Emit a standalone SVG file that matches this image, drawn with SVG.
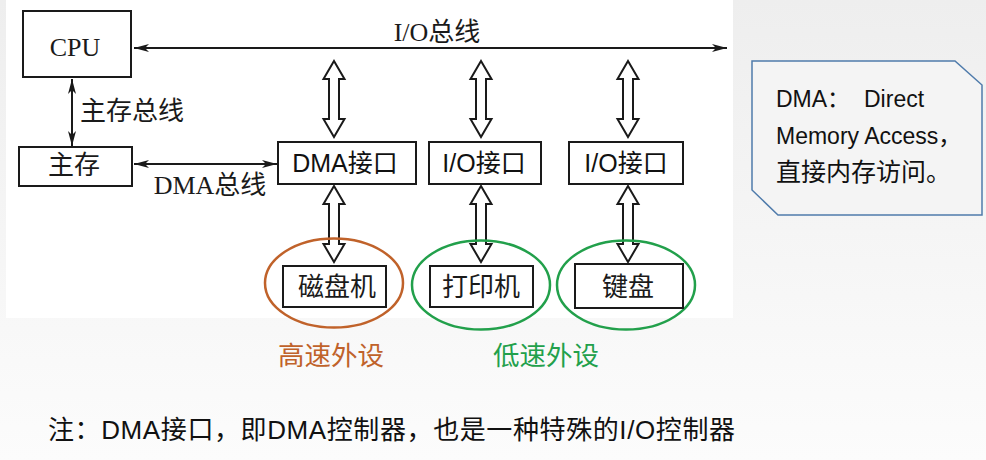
<svg xmlns="http://www.w3.org/2000/svg" width="986" height="460" viewBox="0 0 986 460">
<style>
.box{fill:#fff;stroke:#1a1a1a;stroke-width:2}
.serif{font-family:"Liberation Serif","Noto Sans CJK SC",serif;font-size:26px;fill:#1a1a1a}
.sans{font-family:"Liberation Sans","Noto Sans CJK SC",sans-serif;font-size:25px;fill:#111}
.line{stroke:#1a1a1a;stroke-width:2;fill:none}
.hollow{fill:#fff;stroke:#1a1a1a;stroke-width:2;stroke-linejoin:miter}
.ell{fill:none;stroke-width:2.5}
</style>
<defs>
<marker id="ah" markerUnits="userSpaceOnUse" markerWidth="16" markerHeight="10" refX="15" refY="5" orient="auto-start-reverse">
<path d="M0,1 L15,5 L0,9 L4,5 z" fill="#1a1a1a"/>
</marker>
<linearGradient id="bg" x1="0" y1="0" x2="0" y2="1">
<stop offset="0" stop-color="#eeeeee"/>
<stop offset="1" stop-color="#fcfcfc"/>
</linearGradient>
</defs>
<rect x="0" y="0" width="986" height="460" fill="url(#bg)"/>
<rect x="6" y="0" width="727" height="318" fill="#fff"/>

<g id="connectors">
<line class="line" x1="134" y1="48" x2="727" y2="48" marker-start="url(#ah)" marker-end="url(#ah)"/>
<line class="line" x1="72" y1="79" x2="72" y2="146" marker-start="url(#ah)" marker-end="url(#ah)"/>
<line class="line" x1="134" y1="164" x2="277" y2="164" marker-start="url(#ah)" marker-end="url(#ah)"/>
<polygon class="hollow" points="334,61 344.5,79 339,79 339,119 344.5,119 334,137 323.5,119 329,119 329,79 323.5,79"/>
<polygon class="hollow" points="481,61 491.5,79 486,79 486,119 491.5,119 481,137 470.5,119 476,119 476,79 470.5,79"/>
<polygon class="hollow" points="628,61 638.5,79 633,79 633,119 638.5,119 628,137 617.5,119 623,119 623,79 617.5,79"/>
<polygon class="hollow" points="334,186 344.5,204 339,204 339,244 344.5,244 334,262 323.5,244 329,244 329,204 323.5,204"/>
<polygon class="hollow" points="481,186 491.5,204 486,204 486,244 491.5,244 481,262 470.5,244 476,244 476,204 470.5,204"/>
<polygon class="hollow" points="628,186 638.5,204 633,204 633,244 638.5,244 628,262 617.5,244 623,244 623,204 617.5,204"/>
<text class="serif" x="437" y="41" text-anchor="middle">I/O总线</text>
<text class="serif" x="80" y="120">主存总线</text>
<text class="serif" x="210" y="194" text-anchor="middle">DMA总线</text>
</g>

<g id="cpu">
<rect class="box" x="23" y="11" width="108" height="66"/>
<text class="serif" x="75" y="56" text-anchor="middle" font-size="27">CPU</text>
</g>
<g id="memory">
<rect class="box" x="19" y="147" width="113" height="39"/>
<text class="serif" x="74" y="174" text-anchor="middle">主存</text>
</g>
<g id="dma-interface">
<rect class="box" x="278" y="142" width="138" height="42"/>
<text class="sans" x="345" y="172" text-anchor="middle">DMA接口</text>
</g>
<g id="io-interface-1">
<rect class="box" x="429" y="142" width="112" height="42"/>
<text class="sans" x="484" y="172" text-anchor="middle">I/O接口</text>
</g>
<g id="io-interface-2">
<rect class="box" x="569" y="142" width="114" height="42"/>
<text class="sans" x="626" y="172" text-anchor="middle">I/O接口</text>
</g>
<g id="disk">
<ellipse class="ell" cx="334" cy="283" rx="69" ry="44.5" stroke="#c0622a"/>
<rect class="box" x="283" y="266" width="103" height="41"/>
<text class="serif" x="337" y="296" text-anchor="middle">磁盘机</text>
</g>
<g id="printer">
<ellipse class="ell" cx="481" cy="285" rx="69" ry="44.5" stroke="#22a04b"/>
<rect class="box" x="430" y="266" width="103" height="41"/>
<text class="serif" x="481" y="296" text-anchor="middle">打印机</text>
</g>
<g id="keyboard">
<ellipse class="ell" cx="626" cy="285" rx="69" ry="44.5" stroke="#22a04b"/>
<rect class="box" x="575" y="264" width="108" height="44"/>
<text class="serif" x="628" y="296" text-anchor="middle">键盘</text>
</g>
<g id="labels">
<text x="331" y="365" text-anchor="middle" font-family="'Noto Sans CJK SC',sans-serif" font-size="26.5" fill="#c0622a">高速外设</text>
<text x="546" y="365" text-anchor="middle" font-family="'Noto Sans CJK SC',sans-serif" font-size="26.5" fill="#22a04b">低速外设</text>
</g>
<g id="callout">
<path d="M752,61 L955,61 L982,85 L982,215 L778,215 L752,190 Z" fill="#f4f4f4" stroke="#4f7bab" stroke-width="1.5"/>
<g font-family="'Liberation Sans','Noto Sans CJK SC',sans-serif" font-size="23" fill="#111">
<text x="776" y="107">DMA：<tspan x="864">Direct</tspan></text>
<text x="776" y="144">Memory Access，</text>
<text x="776" y="181" font-size="25">直接内存访问。</text>
</g>
</g>
<g id="note">
<text x="48" y="439" font-family="'Liberation Sans','Noto Sans CJK SC',sans-serif" font-size="26" letter-spacing="0.6" fill="#111">注：DMA接口，即DMA控制器，也是一种特殊的I/O控制器</text>
</g>
</svg>
